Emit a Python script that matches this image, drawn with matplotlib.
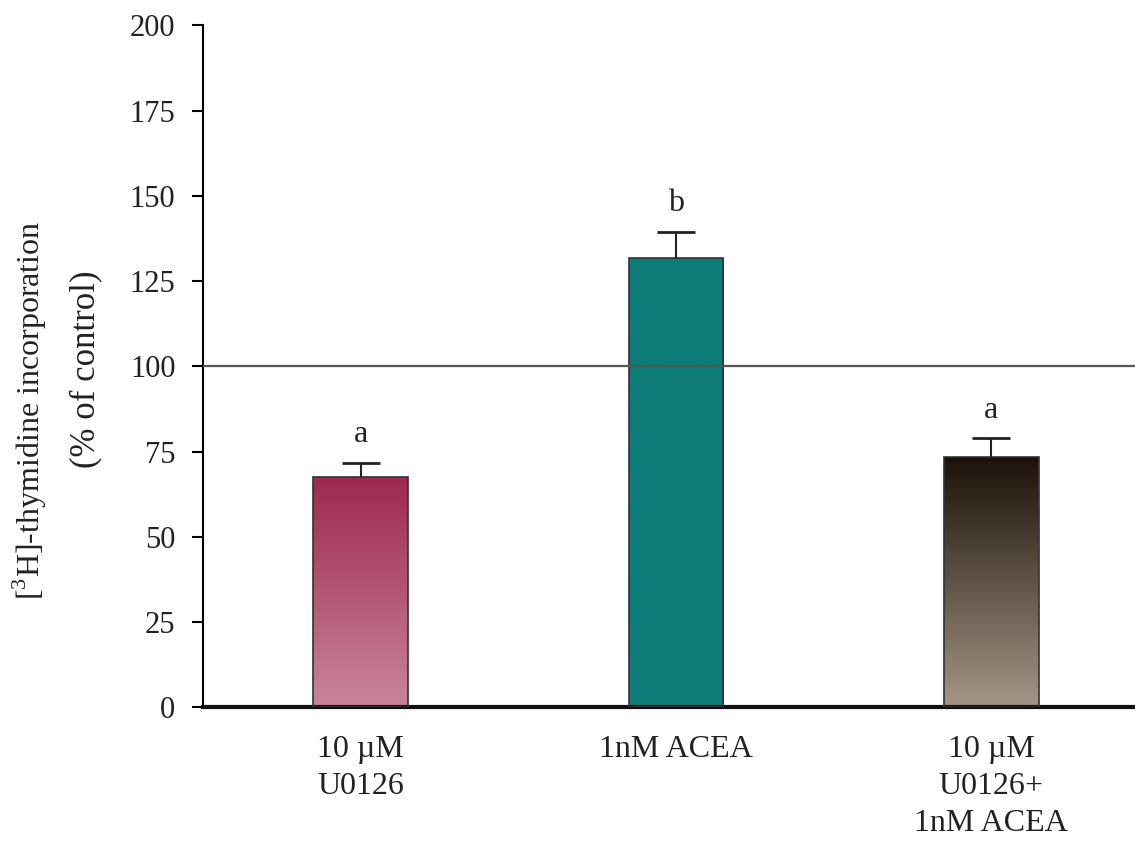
import numpy as np
import matplotlib
matplotlib.use('Agg')
import matplotlib.pyplot as plt
from matplotlib.colors import LinearSegmentedColormap

plt.rcParams['font.family'] = 'Liberation Serif'
plt.rcParams['mathtext.fontset'] = 'custom'
plt.rcParams['mathtext.rm'] = 'Liberation Serif'

# Treatment groups, means and upper SEM
groups = ['10 µM\nU0126', '1nM ACEA', '10 µM\nU0126+\n1nM ACEA']
means = [67.5, 131.8, 73.3]
errors = [4.2, 7.6, 5.6]
letters = ['a', 'b', 'a']

# fill of each bar: (top colour, bottom colour)
fills = [('#9e2a4e', '#c9849a'), ('#0d7d7a', '#0d7d7a'), ('#1c1209', '#a39685')]

fig = plt.figure(figsize=(11.35, 8.42), dpi=100)
ax = fig.add_axes([0.179, 0.160, 0.821, 0.810])

x = np.arange(len(groups))
width = 0.30
bars = ax.bar(x, means, width, color='none', edgecolor='#333333', linewidth=1.2, zorder=3)

# vertical gradient inside each bar
for b, (top, bottom) in zip(bars, fills):
    cmap = LinearSegmentedColormap.from_list('g', [bottom, top])
    grad = np.linspace(0, 1, 256).reshape(-1, 1)
    x0, y0 = b.get_x(), b.get_y()
    im = ax.imshow(grad, cmap=cmap, origin='lower', aspect='auto',
                   extent=[x0, x0 + b.get_width(), y0, y0 + b.get_height()], zorder=2)
    im.set_clip_path(b)

# upper error only
eb = ax.errorbar(x, means, yerr=[np.zeros(len(means)), errors], fmt='none',
                 ecolor='#222222', elinewidth=1.5, capsize=14, capthick=2, zorder=4)
eb[1][0].set_visible(False)

for xi, m, e, t in zip(x, means, errors, letters):
    ax.text(xi, m + e + 6, t, ha='center', va='baseline', fontsize=23, color='#222222')

# control level
ax.axhline(100, color='#555555', linewidth=1.6, zorder=5)

ax.set_xlim(-0.5, 2.456)
ax.set_ylim(0, 200)
ax.set_yticks(np.arange(0, 201, 25))
ax.set_xticks(x)
ax.set_xticklabels(groups, fontsize=23, color='#222222', linespacing=1.36)
ax.tick_params(axis='x', length=0, pad=20)
ax.tick_params(axis='y', direction='out', length=8, width=1.5, labelsize=22,
               labelcolor='#222222', pad=12)

ax.spines['top'].set_visible(False)
ax.spines['right'].set_visible(False)
ax.spines['left'].set_linewidth(1.5)
ax.spines['bottom'].set_linewidth(3)
ax.spines['bottom'].set_color('#111111')

# two-line y label, lines placed separately
fig.text(0.0264, 0.512, '[$^3$H]-thymidine incorporation', rotation=90,
         ha='center', va='center', fontsize=23, color='#222222')
fig.text(0.0758, 0.561, '(% of control)', rotation=90,
         ha='center', va='center', fontsize=25, color='#222222')

fig.savefig('out.png', dpi=100)
